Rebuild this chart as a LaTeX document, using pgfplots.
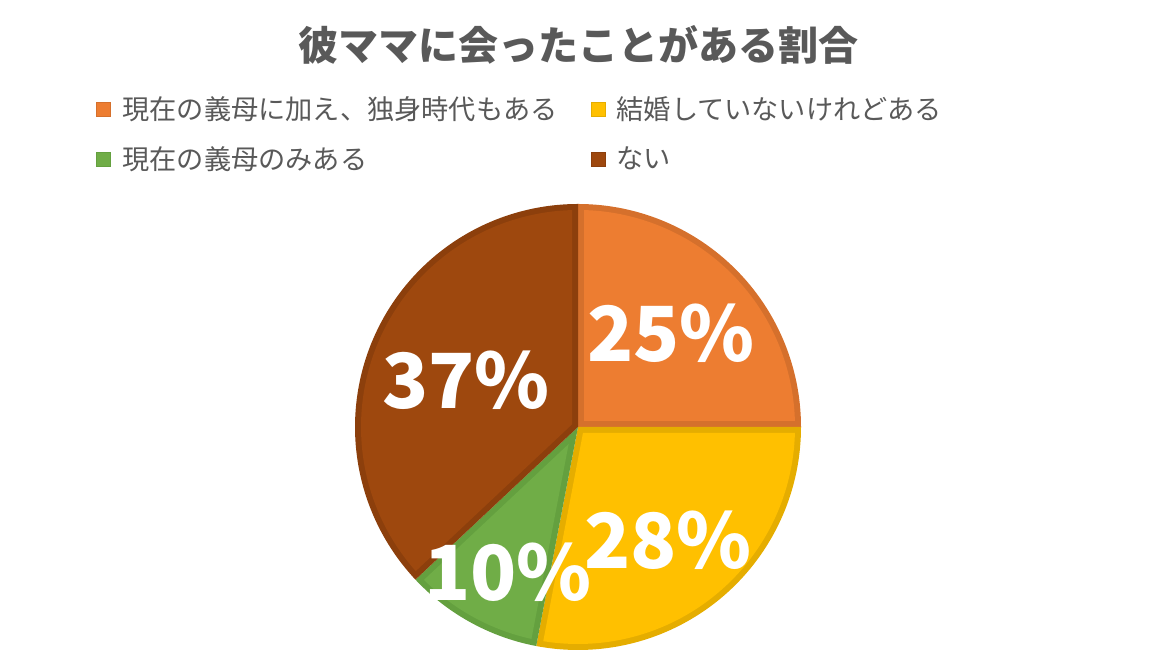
\documentclass[border=0pt]{standalone}
\usepackage{pgfplots}
\pgfplotsset{compat=1.18}
\usepackage{pgfplotstable}
\usepackage{fontspec}
\setmainfont{Noto Sans CJK JP}

\definecolor{txtgray}{HTML}{595959}
\definecolor{pieOrange}{HTML}{ED7D31}
\definecolor{pieOrangeDark}{HTML}{D5702C}
\definecolor{pieGold}{HTML}{FFC000}
\definecolor{pieGoldDark}{HTML}{E5AD00}
\definecolor{pieGreen}{HTML}{70AD47}
\definecolor{pieGreenDark}{HTML}{64A03F}
\definecolor{pieBrown}{HTML}{9E480E}
\definecolor{pieBrownDark}{HTML}{8C3F0C}

% shares in percent, clockwise from 12 o'clock
\pgfplotstableread{
share
25
28
10
37
}\pietable

\pgfplotstablegetelem{0}{share}\of\pietable\let\vA\pgfplotsretval
\pgfplotstablegetelem{1}{share}\of\pietable\let\vB\pgfplotsretval
\pgfplotstablegetelem{2}{share}\of\pietable\let\vC\pgfplotsretval
\pgfplotstablegetelem{3}{share}\of\pietable\let\vD\pgfplotsretval
\pgfmathsetmacro\sA{90}\pgfmathsetmacro\eA{\sA-3.6*\vA}
\pgfmathsetmacro\sB{\eA}\pgfmathsetmacro\eB{\sB-3.6*\vB}
\pgfmathsetmacro\sC{\eB}\pgfmathsetmacro\eC{\sC-3.6*\vC}
\pgfmathsetmacro\sD{\eC}\pgfmathsetmacro\eD{\sD-3.6*\vD}

% one slice: outer dark wedge, then an inset lighter wedge (6 units border)
\newcommand\pieslice[4]{%
  \pgfmathsetmacro\psS{#1}%
  \pgfmathsetmacro\psE{#2}%
  \pgfmathsetmacro\psD{asin(6/217)}%
  \pgfmathsetmacro\psIS{\psS-\psD}%
  \pgfmathsetmacro\psIE{\psE+\psD}%
  \pgfmathsetmacro\psR{6/sin((\psS-\psE)/2)}%
  \pgfmathsetmacro\psX{578+\psR*cos((\psS+\psE)/2)}%
  \pgfmathsetmacro\psY{245+\psR*sin((\psS+\psE)/2)}%
  \edef\psplot{%
    \noexpand\addplot[forget plot, draw=none, fill=#3, domain=\psE:\psS, samples=150]
      ({578+223*cos(x)}, {245+223*sin(x)}) -- (578,245) -- cycle;
    \noexpand\addplot[forget plot, draw=none, fill=#4, domain=\psIE:\psIS, samples=150]
      ({578+217*cos(x)}, {245+217*sin(x)}) -- (\psX,\psY) -- cycle;
  }%
  \psplot
}

\begin{document}
\begin{tikzpicture}
\begin{axis}[
  width=578pt, height=336pt, scale only axis,
  xmin=0, xmax=1156, ymin=0, ymax=672,
  hide axis, clip=false,
  legend columns=2,
  legend cell align=left,
  legend image code/.code={\filldraw[#1] (0pt,-3.5pt) rectangle (7pt,3.5pt);
    \path (11pt,0pt);},
  legend style={at={(axis cs:90,583)}, anchor=north west, draw=none, fill=none,
    font=\fontsize{13.6}{16}\selectfont, text=txtgray, row sep=9pt,
    nodes={inner sep=1.5pt},
    /tikz/every even column/.append style={column sep=15pt}},
]
\path (rel axis cs:0,0) rectangle (rel axis cs:1,1);

\addlegendimage{fill=pieOrange, draw=pieOrangeDark, line width=0.5pt}
\addlegendentry{現在の義母に加え、独身時代もある}
\addlegendimage{fill=pieGold, draw=pieGoldDark, line width=0.5pt}
\addlegendentry{結婚していないけれどある}
\addlegendimage{fill=pieGreen, draw=pieGreenDark, line width=0.5pt}
\addlegendentry{現在の義母のみある}
\addlegendimage{fill=pieBrown, draw=pieBrownDark, line width=0.5pt}
\addlegendentry{ない}

\pieslice{\sA}{\eA}{pieOrangeDark}{pieOrange}
\pieslice{\sB}{\eB}{pieGoldDark}{pieGold}
\pieslice{\sC}{\eC}{pieGreenDark}{pieGreen}
\pieslice{\sD}{\eD}{pieBrownDark}{pieBrown}

\node[font=\fontsize{20}{24}\selectfont\bfseries, text=txtgray] at (axis cs:578,627) {彼ママに会ったことがある割合};

\begin{scope}[every node/.style={font=\fontsize{38}{44}\selectfont\bfseries, text=white}]
\node at (axis cs:671,339) {\vA\%};
\node at (axis cs:668,132) {\vB\%};
\node at (axis cs:508,100) {\vC\%};
\node at (axis cs:466,292) {\vD\%};
\end{scope}
\end{axis}
\end{tikzpicture}
\end{document}
